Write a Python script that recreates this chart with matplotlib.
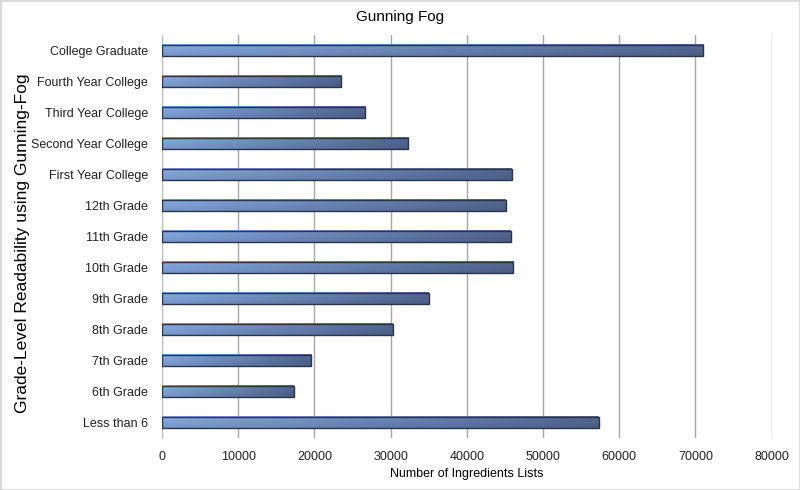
import numpy as np
import matplotlib
matplotlib.use('Agg')
import matplotlib.pyplot as plt
from matplotlib.patches import Rectangle

plt.rcParams['font.family'] = ['Liberation Sans', 'DejaVu Sans']

# categories, bottom to top
levels = ['Less than 6', '6th Grade', '7th Grade', '8th Grade', '9th Grade',
          '10th Grade', '11th Grade', '12th Grade', 'First Year College',
          'Second Year College', 'Third Year College', 'Fourth Year College',
          'College Graduate']
counts = [57300, 17300, 19600, 30300, 35000, 46100, 45800, 45100, 45900,
          32300, 26700, 23550, 71000]
xticks = [0, 10000, 20000, 30000, 40000, 50000, 60000, 70000, 80000]

fig = plt.figure(figsize=(8, 4.9), dpi=100)
ax = fig.add_axes([0.2025, 0.106, 0.762, 0.8225])

ypos = np.arange(len(levels))
bars = ax.barh(ypos, counts, height=0.36, color='none',
               edgecolor='#2B3548', linewidth=1, zorder=4)

# gradient fill: light blue on the left, slate on the right, lighter at the top
nx, ny = 200, 20
tx = np.linspace(0, 1, nx)[None, :, None]
ty = np.linspace(0, 1, ny)[:, None, None]
left = np.array([0.52, 0.66, 0.88])
right = np.array([0.32, 0.40, 0.57])
grad = left + (right - left) * tx
grad = grad * (0.90 + 0.12 * ty)
grad = np.clip(grad, 0, 1)

for bar in bars:
    x0, y0 = bar.get_x(), bar.get_y()
    w, h = bar.get_width(), bar.get_height()
    ax.imshow(grad, extent=[x0, x0 + w, y0, y0 + h], aspect='auto',
              origin='lower', zorder=3, interpolation='bilinear')

ax.set_xlim(0, 80000)
ax.set_ylim(-0.5, len(levels) - 0.5)
ax.set_xticks(xticks)
ax.set_xticklabels([str(v) for v in xticks])
ax.set_yticks(ypos)
ax.set_yticklabels(levels)
ax.tick_params(axis='both', length=0, labelsize=9, colors='#222222')
ax.tick_params(axis='x', pad=9)
ax.tick_params(axis='y', pad=10)

ax.xaxis.grid(True, color='#A6A6A6', linewidth=1, zorder=0)
ax.set_axisbelow(True)
for side in ['top', 'right', 'bottom']:
    ax.spines[side].set_visible(False)
ax.spines['left'].set_color('#BFBFBF')

ax.set_xlabel('Number of Ingredients Lists', fontsize=9, labelpad=4)
ax.set_ylabel('Grade-Level Readability using Gunning-Fog', fontsize=12.5)
ax.yaxis.set_label_coords(-0.2165, 0.484)
fig.text(0.5, 0.965, 'Gunning Fog', ha='center', va='center', fontsize=11)

fig.patches.append(Rectangle((0, 0), 1, 1, transform=fig.transFigure,
                             fill=False, edgecolor='#D9D9D9', linewidth=2))

fig.savefig('out.png', dpi=100)
